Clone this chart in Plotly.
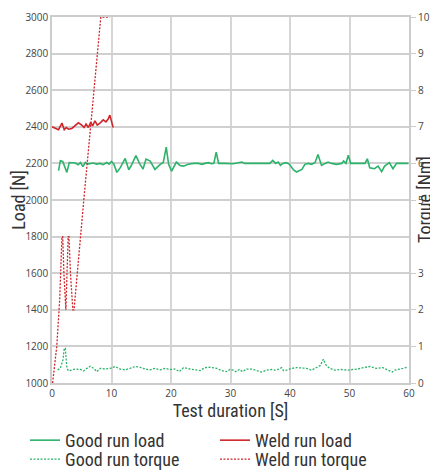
import plotly.graph_objects as go

# ---------------- data ----------------
good_load_x = [1.1, 1.4, 1.8, 2.1, 2.5, 2.9, 3.3, 3.9, 4.4, 4.8, 5.2, 5.6, 6.0, 6.4, 6.9, 7.5, 8.1, 8.6,
               9.2, 9.6, 10.0, 10.4, 10.9, 11.5, 12.3, 12.9, 13.3, 14.1, 14.7, 15.3, 15.8, 16.5, 17.3,
               18.2, 18.7, 19.2, 19.6, 20.1, 20.9, 21.5, 22.1, 22.9, 23.8, 24.6, 25.2, 25.7, 26.3, 26.8,
               27.2, 27.6, 28.0, 28.8, 29.6, 30.5, 31.3, 31.9, 32.4, 33.3, 34.4, 35.5, 36.6, 37.1, 37.6,
               38.0, 38.4, 38.8, 39.4, 39.9, 40.6, 41.1, 42.0, 42.5, 43.1, 43.6, 44.2, 44.7, 45.3, 45.9,
               46.4, 47.0, 47.8, 48.7, 49.0, 49.4, 49.8, 50.2, 50.9, 51.7, 52.6, 53.0, 53.4, 54.2, 54.8,
               55.4, 55.9, 56.7, 57.3, 57.9, 58.4, 59.0, 59.6, 59.9]
good_load_y = [2160, 2215, 2211, 2187, 2151, 2205, 2205, 2202, 2193, 2205, 2182, 2205, 2196, 2200, 2202,
               2196, 2200, 2193, 2205, 2196, 2211, 2196, 2151, 2178, 2227, 2165, 2187, 2242, 2200, 2169,
               2224, 2213, 2167, 2195, 2205, 2289, 2195, 2158, 2207, 2189, 2185, 2195, 2200, 2200, 2195,
               2200, 2204, 2198, 2200, 2262, 2200, 2200, 2200, 2198, 2204, 2207, 2200, 2200, 2198, 2200,
               2200, 2216, 2200, 2207, 2189, 2200, 2204, 2195, 2164, 2153, 2167, 2195, 2200, 2195, 2204,
               2249, 2189, 2200, 2207, 2200, 2195, 2200, 2213, 2200, 2244, 2200, 2200, 2200, 2200, 2225,
               2176, 2171, 2185, 2155, 2185, 2204, 2171, 2200, 2200, 2196, 2200, 2200]

weld_load_x = [0.0, 0.6, 1.1, 1.67, 2.06, 2.39, 2.78, 3.33, 3.89, 4.44, 5.0, 5.39, 5.72, 6.11, 6.5, 6.83,
               7.22, 7.61, 8.06, 8.61, 9.06, 9.44, 9.72, 10.0, 10.28]
weld_load_y = [2400, 2392, 2384, 2420, 2384, 2396, 2387, 2391, 2409, 2422, 2409, 2396, 2415, 2396, 2424,
               2405, 2433, 2409, 2420, 2438, 2427, 2442, 2464, 2420, 2396]

good_torque_x = [0.95, 1.39, 1.84, 2.06, 2.23, 2.51, 2.79, 3.35, 3.91, 4.75, 5.31, 5.87, 6.43, 6.99, 7.54,
                 8.1, 8.94, 9.78, 10.6, 11.46, 12.3, 13.1, 14.0, 14.8, 15.65, 16.5, 17.3, 18.2, 19.0,
                 19.9, 20.7, 21.4, 22.1, 22.9, 23.8, 24.9, 25.7, 26.6, 27.7, 28.5, 29.4, 29.9, 30.5, 30.9,
                 31.5, 32.0, 32.7, 33.6, 34.4, 35.2, 36.1, 36.9, 37.5, 38.0, 38.6, 38.9, 39.4, 40.3, 41.1,
                 41.9, 42.8, 43.6, 44.5, 45.1, 45.6, 46.1, 46.7, 47.5, 48.6, 49.8, 50.6, 51.4, 52.3, 53.4,
                 54.5, 55.6, 56.5, 57.2, 57.6, 58.3, 59.0, 59.6]
good_torque_y = [0.36, 0.40, 0.63, 0.95, 0.95, 0.40, 0.33, 0.36, 0.38, 0.37, 0.33, 0.40, 0.46, 0.40, 0.31,
                 0.40, 0.38, 0.40, 0.45, 0.38, 0.36, 0.40, 0.45, 0.43, 0.38, 0.36, 0.40, 0.36, 0.40,
                 0.37, 0.38, 0.31, 0.42, 0.39, 0.37, 0.34, 0.42, 0.43, 0.40, 0.34, 0.31, 0.37, 0.35, 0.31,
                 0.37, 0.31, 0.38, 0.38, 0.34, 0.30, 0.35, 0.37, 0.35, 0.37, 0.42, 0.34, 0.35, 0.40, 0.42,
                 0.42, 0.40, 0.35, 0.42, 0.48, 0.65, 0.48, 0.40, 0.35, 0.37, 0.35, 0.37, 0.38, 0.42, 0.45,
                 0.40, 0.42, 0.35, 0.30, 0.35, 0.37, 0.40, 0.43]

weld_torque_x = [0.1, 0.8, 1.3, 1.67, 1.8, 2.0, 2.33, 2.5, 2.72, 2.85, 3.1, 3.5, 3.7, 5.4, 8.2, 9.7]
weld_torque_y = [0, 1, 2.3, 4, 4, 3, 2, 3, 4, 4, 3, 2, 2, 5.1, 10, 10]

load_ticks = [1000, 1200, 1400, 1600, 1800, 2000, 2200, 2400, 2600, 2800, 3000]
torque_ticks = [0, 1, 2, 3, 5, 6, 7, 8, 9, 10]
time_ticks = [0, 10, 20, 30, 40, 50, 60]

GREEN = "#2bb36a"
RED = "#d0262b"
COND = "Liberation Sans Narrow, Roboto Condensed, Arial Narrow, Roboto, sans-serif"
TICKF = "Open Sans, Noto Sans, sans-serif"
DOTS = "2px,1.5px"

fig = go.Figure()
fig.add_trace(go.Scatter(x=good_load_x, y=good_load_y, mode="lines", name="Good run load",
                         line=dict(color=GREEN, width=1.6), legend="legend"))
fig.add_trace(go.Scatter(x=weld_load_x, y=weld_load_y, mode="lines", name="Weld run load",
                         line=dict(color=RED, width=1.6), legend="legend2"))
fig.add_trace(go.Scatter(x=good_torque_x, y=good_torque_y, mode="lines", name="Good run torque",
                         line=dict(color=GREEN, width=1.3, dash=DOTS), yaxis="y2", legend="legend3"))
fig.add_trace(go.Scatter(x=weld_torque_x, y=weld_torque_y, mode="lines", name="Weld run torque",
                         line=dict(color=RED, width=1.3, dash=DOTS), yaxis="y2", legend="legend4"))

leg_common = dict(orientation="v", xanchor="left", yanchor="middle",
                  font=dict(family=COND, size=18, color="#333"), itemwidth=30,
                  bgcolor="rgba(0,0,0,0)", borderwidth=0)

fig.update_layout(
    width=430, height=464,
    margin=dict(l=44, r=29, t=9, b=89, autoexpand=False),
    paper_bgcolor="white", plot_bgcolor="white",
    showlegend=True,
    legend=dict(x=-0.0756, y=-0.157, **leg_common),
    legend2=dict(x=0.4566, y=-0.157, **leg_common),
    legend3=dict(x=-0.0756, y=-0.209, **leg_common),
    legend4=dict(x=0.4566, y=-0.209, **leg_common),
    xaxis=dict(range=[0, 60], tickvals=time_ticks, showgrid=True, gridcolor="#d6d6d6", gridwidth=2,
               zeroline=False, showline=True, linecolor="#cccccc", linewidth=1.5, mirror=True,
               ticks="", tickfont=dict(family=TICKF, size=10, color="#444"), automargin=False,
               title=dict(text="Test duration [S]", font=dict(family=COND, size=18, color="#333"),
                          standoff=2)),
    yaxis=dict(range=[1000, 3000], tickvals=load_ticks, showgrid=True, gridcolor="#d0d0d0", gridwidth=1.5,
               zeroline=False, showline=True, linecolor="#cccccc", linewidth=1.5, mirror=True,
               ticks="", tickfont=dict(family=TICKF, size=10, color="#444"), automargin=False,
               title=dict(text="Load [N]", font=dict(family=COND, size=18, color="#333"), standoff=4)),
    yaxis2=dict(range=[0, 10], tickvals=torque_ticks, overlaying="y", side="right", showgrid=False,
                zeroline=False, showline=False, ticks="outside", ticklen=6, tickcolor="#cccccc",
                tickwidth=1, tickfont=dict(family=TICKF, size=10, color="#444"), automargin=False),
    annotations=[dict(text="Torque [Nm]", textangle=-90, xref="paper", yref="paper", x=1, y=0.5,
                      xanchor="center", yanchor="middle", xshift=15, showarrow=False,
                      font=dict(family=COND, size=18, color="#333"))],
)

fig.write_html("out.html")
